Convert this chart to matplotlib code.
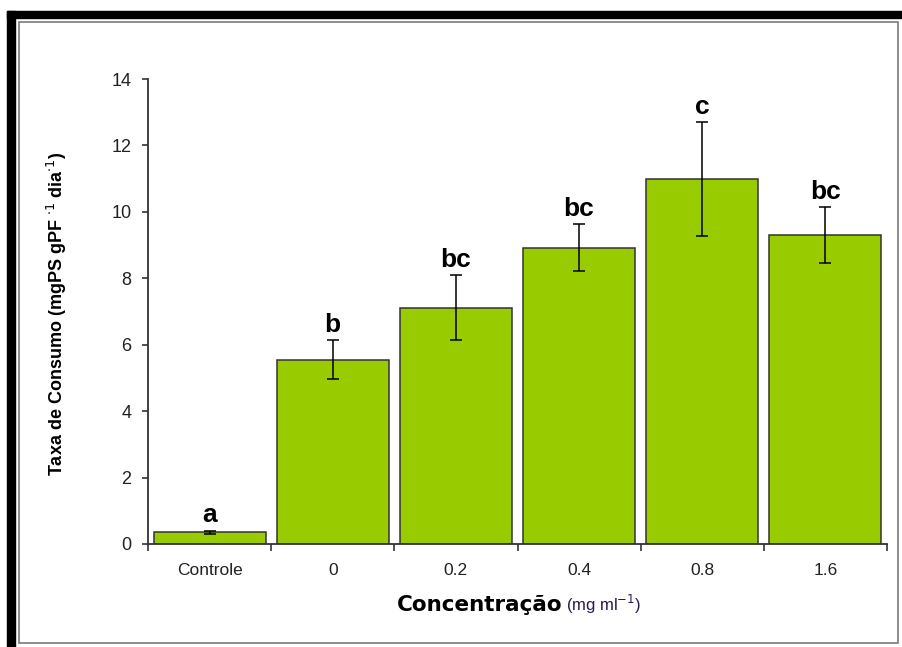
import matplotlib
matplotlib.use("Agg")
import matplotlib.pyplot as plt
from matplotlib.patches import Rectangle
import numpy as np

categorias = ["Controle", "0", "0.2", "0.4", "0.8", "1.6"]
taxa = [0.35, 5.55, 7.12, 8.92, 10.98, 9.30]
erro = [0.05, 0.59, 0.98, 0.71, 1.72, 0.85]
letras = ["a", "b", "bc", "bc", "c", "bc"]
yticks = [0, 2, 4, 6, 8, 10, 12, 14]

W, H = 902, 647
fig = plt.figure(figsize=(W / 100, H / 100), dpi=100)
fig.patch.set_facecolor("white")

# moldura preta grossa (topo e esquerda) e moldura cinza fina
fig.patches.append(Rectangle((7 / W, 1 - 18 / H), 1 - 7 / W, 7 / H,
                             transform=fig.transFigure, color="black", zorder=0))
fig.patches.append(Rectangle((7 / W, 0), 8 / W, 1 - 11 / H,
                             transform=fig.transFigure, color="black", zorder=0))
fig.patches.append(Rectangle((19 / W, 1 - 643 / H), (898 - 19) / W, (643 - 22) / H,
                             transform=fig.transFigure, fill=False,
                             edgecolor="#7a7a7a", lw=1.2, zorder=0))

ax = fig.add_axes([148 / W, 1 - 544 / H, (887 - 148) / W, (544 - 79) / H])
ax.set_facecolor("none")

x = np.arange(len(categorias))
ax.bar(x, taxa, width=0.91, color="#99cc00", edgecolor="#333333", linewidth=1.1,
       zorder=2)
ax.errorbar(x, taxa, yerr=erro, fmt="none", ecolor="black", elinewidth=1.1,
            capsize=4.5, capthick=1.1, zorder=3)

for xi, t, e, l in zip(x, taxa, erro, letras):
    ax.annotate(l, (xi, t + e), xytext=(0, 6), textcoords="offset points",
                ha="center", va="baseline", fontsize=19, fontweight="bold",
                family="Liberation Sans")

ax.set_xlim(-0.5, len(categorias) - 0.5)
ax.set_ylim(0, 14)
ax.set_yticks(yticks)
ax.set_yticklabels([str(v) for v in yticks], fontsize=13, family="Liberation Sans",
                   color="#222222")
ax.set_xticks(x)
ax.set_xticklabels(categorias, fontsize=12.5, family="Liberation Sans", color="#222222")
ax.set_xticks(np.arange(-0.5, len(categorias)), minor=True)
ax.tick_params(axis="x", which="major", length=0, pad=14)
ax.tick_params(axis="x", which="minor", length=5, width=1.2, color="#333333",
               direction="out")
ax.tick_params(axis="y", length=4, width=1.2, color="#333333", direction="out", pad=8)

for s in ["top", "right"]:
    ax.spines[s].set_visible(False)
for s in ["left", "bottom"]:
    ax.spines[s].set_linewidth(1.3)
    ax.spines[s].set_color("#333333")

fig.text(57 / W, 1 - 314 / H,
         r"Taxa de Consumo (mgPS gPF $^{\cdot 1}$ dia$^{\cdot 1}$)",
         rotation=90, ha="center", va="center", fontsize=13, fontweight="bold",
         family="Liberation Sans")

fig.text(562 / W, 1 - 611 / H, "Concentração", ha="right", va="baseline",
         fontsize=15.5, fontweight="bold", family="DejaVu Sans")
fig.text(566 / W, 1 - 611 / H, r"(mg ml$^{-1}$)", ha="left", va="baseline",
         fontsize=12, family="Liberation Sans", color="#2a1850")

fig.savefig("out.png", dpi=100, facecolor="white")
